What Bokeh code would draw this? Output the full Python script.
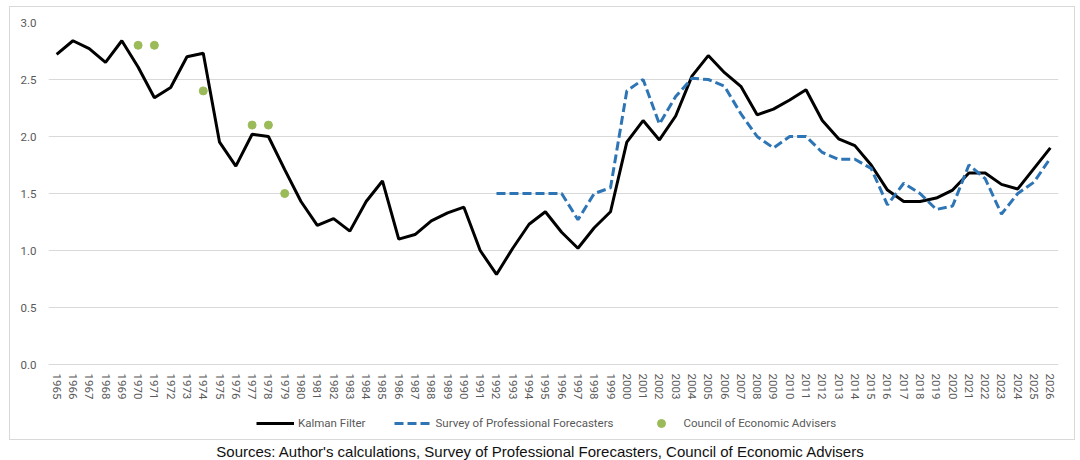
from bokeh.plotting import figure
from bokeh.models import (FactorRange, Range1d, Legend, LegendItem, Div,
                          FixedTicker, PrintfTickFormatter)
from bokeh.layouts import column
from bokeh.embed import file_html
from bokeh.resources import INLINE

years = [str(y) for y in range(1965, 2027)]
kalman = [2.72, 2.84, 2.77, 2.65, 2.84, 2.61, 2.34, 2.43, 2.70, 2.73,
          1.95, 1.74, 2.02, 2.00, 1.71, 1.43, 1.22, 1.28, 1.17, 1.43,
          1.61, 1.10, 1.14, 1.26, 1.33, 1.38, 1.00, 0.79, 1.02, 1.23,
          1.34, 1.16, 1.02, 1.20, 1.34, 1.95, 2.14, 1.97, 2.18, 2.53,
          2.71, 2.56, 2.44, 2.19, 2.24, 2.32, 2.41, 2.14, 1.98, 1.92,
          1.75, 1.53, 1.43, 1.43, 1.46, 1.53, 1.68, 1.68, 1.58, 1.54,
          1.72, 1.90]
spf_years = [str(y) for y in range(1992, 2027)]
spf = [1.50, 1.50, 1.50, 1.50, 1.50, 1.27, 1.50, 1.55,
       2.40, 2.50, 2.11, 2.35, 2.51, 2.50, 2.44, 2.20, 2.00, 1.90,
       2.00, 2.00, 1.86, 1.80, 1.80, 1.72, 1.40, 1.59, 1.50, 1.36,
       1.39, 1.75, 1.63, 1.32, 1.50, 1.60, 1.81]
cea_years = ["1970", "1971", "1974", "1977", "1978", "1979"]
cea = [2.8, 2.8, 2.4, 2.1, 2.1, 1.5]
y_ticks = [0.0, 0.5, 1.0, 1.5, 2.0, 2.5, 3.0]
legend_labels = ["Kalman Filter", "Survey of Professional Forecasters", "Council of Economic Advisers"]
caption = "Sources: Author's calculations, Survey of Professional Forecasters, Council of Economic Advisers"

GRAY = "#595959"
PX_PER_UNIT = 114.0          # vertical pixels per 1.0 on the value axis
EXTRA_BELOW = 72.0           # room below the 0.0 line for tick labels and legend

p = figure(width=1064, height=432,
           x_range=FactorRange(factors=years, range_padding=0),
           y_range=Range1d(-EXTRA_BELOW / PX_PER_UNIT, 3.0),
           output_backend="svg", toolbar_location=None,
           min_border_left=38, min_border_right=16,
           min_border_top=15, min_border_bottom=3)
p.margin = (7, 6, 0, 10)
p.styles = {"outline": "1px solid #d9d9d9"}
p.outline_line_color = None
p.background_fill_color = "white"
p.border_fill_color = "white"

p.xgrid.grid_line_color = None
p.ygrid.grid_line_color = "#d9d9d9"
p.ygrid.grid_line_width = 1

p.yaxis.ticker = FixedTicker(ticks=y_ticks)
p.ygrid.ticker = FixedTicker(ticks=y_ticks)
p.yaxis.formatter = PrintfTickFormatter(format="%.1f")
p.yaxis.axis_line_color = None
p.yaxis.major_tick_line_color = None
p.yaxis.minor_tick_line_color = None
p.yaxis.major_label_text_color = GRAY
p.yaxis.major_label_text_font = "Roboto"
p.yaxis.major_label_text_font_size = "11.5px"
p.yaxis.major_label_standoff = 6

p.xaxis.fixed_location = 0
p.xaxis.axis_line_color = "#d9d9d9"
p.xaxis.major_tick_line_color = None
p.xaxis.minor_tick_line_color = None
p.xaxis.major_label_orientation = "vertical"
p.xaxis.major_label_text_color = GRAY
p.xaxis.major_label_text_font = "Roboto"
p.xaxis.major_label_text_font_size = "11.5px"
p.xaxis.major_label_standoff = 3

r1 = p.line(x=years, y=kalman, line_color="black", line_width=3)
r2 = p.line(x=spf_years, y=spf, line_color="#2E75B6", line_width=3, line_dash="9 4")
r3 = p.scatter(x=cea_years, y=cea, size=8, fill_color="#9BBB59", line_color="#9BBB59")

legend = Legend(items=[LegendItem(label=legend_labels[0], renderers=[r1]),
                       LegendItem(label=legend_labels[1], renderers=[r2]),
                       LegendItem(label=legend_labels[2], renderers=[r3])],
                orientation="horizontal", location=(208, 3),
                glyph_width=38, glyph_height=20, label_standoff=4, spacing=28,
                padding=0, margin=0, border_line_color=None,
                background_fill_alpha=0,
                label_text_font="Roboto", label_text_font_size="11.5px",
                label_text_color=GRAY)
p.add_layout(legend)

cap = Div(text=caption, width=1080, height=16, margin=(5, 0, 0, 0),
          styles={"text-align": "center", "font-family": "Liberation Sans",
                  "font-size": "15px", "color": "#111111", "line-height": "16px"})

layout = column(p, cap, spacing=0)
open("out.html", "w").write(file_html(layout, INLINE))
